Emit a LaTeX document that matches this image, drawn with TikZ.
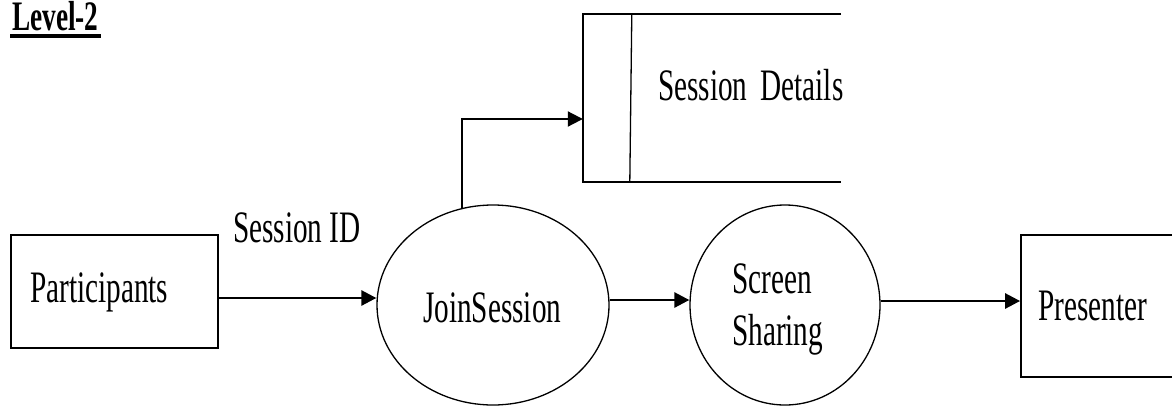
\documentclass[tikz,border=0pt]{standalone}
\usepackage{fontspec}
\setmainfont{Liberation Serif}[FakeStretch=0.65]
\usetikzlibrary{shapes.geometric,arrows.meta}
\tikzset{
  lbl/.style={inner sep=0pt, anchor=base west, font=\fontsize{45}{52}\selectfont},
  boxshape/.style={rectangle, draw, line width=1.8pt, inner sep=0pt},
  procshape/.style={ellipse, draw, line width=1.3pt, inner sep=0pt},
  arr/.style={line width=2.7pt, -{Triangle[length=15pt,width=15pt]}},
  storeline/.style={line width=1.8pt},
}
\begin{document}
\begin{tikzpicture}[x=1pt,y=-1pt]
\useasboundingbox (0,0) rectangle (1172,405);
\clip (0,0) rectangle (1172,405);
% title
\node[lbl, font=\fontsize{42}{50}\selectfont\bfseries] (lvl) at (12,30) {Level-2};
\draw[line width=3.5pt] ([yshift=-6pt,xshift=-2pt]lvl.base west) -- ([yshift=-6pt,xshift=2pt]lvl.base east);
% shapes
\node[boxshape, minimum width=207pt, minimum height=113pt] (part) at (114.5,291.5) {};
\node[procshape, minimum width=232pt, minimum height=200pt] (join) at (493,305) {};
\node[procshape, minimum width=190pt, minimum height=200pt] (ss) at (785,305) {};
\node[boxshape, minimum width=179pt, minimum height=142pt] (pres) at (1110.5,306) {};
\node[rectangle, inner sep=0pt, minimum width=258pt, minimum height=168pt] (store) at (712,98) {};
\draw[storeline] (store.north east) -- (store.north west) -- (store.south west) -- (store.south east);
\draw[line width=1.3pt] ([xshift=49pt]store.north west) -- ([xshift=47pt]store.south west);
% texts
\node[lbl] (parttxt) at (30,302) {Participants};
\node[lbl] (sid) at (233,242) {Session ID};
\node[lbl] (jointxt) at (423,322) {JoinSession};
\node[lbl] (sstxt1) at (732,293) {Screen};
\node[lbl] (sstxt2) at (732,345) {Sharing};
\node[lbl] (prestxt) at (1038,320) {Presenter};
\node[lbl] (storetxt) at (658,100) {Session\hspace{13pt}Details};
% connectors
\draw[arr] (part.east |- 0,298) -- (join.west |- 0,298);
\draw[arr] (join.east |- 0,300) -- (ss.west |- 0,300);
\draw[arr] (ss.east |- 0,301) -- (pres.west |- 0,301);
\path (join.center) ++(-31,-96.4) coordinate (jtop);
\draw[arr, line width=2pt] (jtop) |- (store.west |- 0,119);
\end{tikzpicture}
\end{document}
